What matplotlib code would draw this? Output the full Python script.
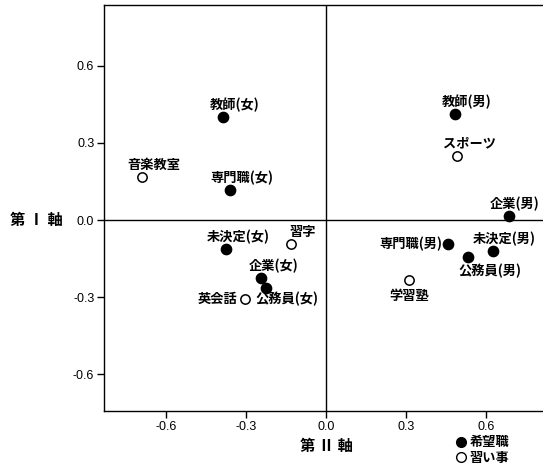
import matplotlib
matplotlib.use('Agg')
from matplotlib import pyplot as plt
from matplotlib.lines import Line2D

plt.rcParams['font.family'] = ['Noto Sans CJK JP', 'DejaVu Sans']

# 希望職 (filled)
job_names = ['教師(女)', '専門職(女)', '未決定(女)', '企業(女)', '公務員(女)',
             '教師(男)', '企業(男)', '専門職(男)', '未決定(男)', '公務員(男)']
job_x = [-0.386, -0.36, -0.376, -0.243, -0.225, 0.484, 0.685, 0.458, 0.625, 0.532]
job_y = [0.40, 0.116, -0.114, -0.227, -0.264, 0.413, 0.016, -0.094, -0.119, -0.142]

# 習い事 (open)
hobby_names = ['音楽教室', '習字', '英会話', 'スポーツ', '学習塾']
hobby_x = [-0.69, -0.132, -0.304, 0.492, 0.313]
hobby_y = [0.167, -0.093, -0.306, 0.251, -0.235]

ticks = [-0.6, -0.3, 0.0, 0.3, 0.6]

# label offsets in pixels (dx, dy, ha)
offsets = {
    '公務員(女)': (21, -11, 'center'),
    '英会話': (-8, 0, 'right'),
    '専門職(男)': (-6, 0, 'right'),
    '公務員(男)': (22, -14, 'center'),
    '学習塾': (0, -16, 'center'),
    '企業(男)': (6, 12, 'center'),
}

fig = plt.figure(figsize=(5.43, 4.65), dpi=100)
ax = fig.add_axes([104 / 543, 54 / 465, 439 / 543, 406 / 465])

ax.scatter(job_x, job_y, s=55, c='black', edgecolors='black', zorder=3)
ax.scatter(hobby_x, hobby_y, s=45, facecolors='white', edgecolors='black', linewidths=1.1, zorder=3)

for names, xs, ys in [(job_names, job_x, job_y), (hobby_names, hobby_x, hobby_y)]:
    for name, x, y in zip(names, xs, ys):
        dx, dy, ha = offsets.get(name, (12, 12, 'center'))
        ax.annotate(name, (x, y), xytext=(dx, dy), textcoords='offset pixels',
                    ha=ha, va='center', fontsize=9.5, fontweight='bold')

ax.axhline(0, color='black', lw=1)
ax.axvline(0, color='black', lw=1)

ax.set_xlim(-0.833, 0.814)
ax.set_ylim(-0.743, 0.837)
ax.set_xticks(ticks)
ax.set_yticks(ticks)
ax.set_xticklabels(['%.1f' % t for t in ticks], family='Liberation Sans')
ax.set_yticklabels(['%.1f' % t for t in ticks], family='Liberation Sans')
ax.tick_params(direction='out', length=5, width=1, labelsize=9, pad=2)
ax.spines['right'].set_visible(False)
for s in ['left', 'top', 'bottom']:
    ax.spines[s].set_linewidth(1)

fig.text(36 / 543, 1 - 220 / 465, '第 Ⅰ 軸', ha='center', va='center', fontsize=11, fontweight='bold')
fig.text(326 / 543, 1 - 446 / 465, '第 Ⅱ 軸', ha='center', va='center', fontsize=11, fontweight='bold')

handles = [Line2D([], [], ls='', marker='o', color='black', markersize=7),
           Line2D([], [], ls='', marker='o', mfc='white', mec='black', markersize=7)]
fig.legend(handles, ['希望職', '習い事'], loc='center left', bbox_to_anchor=(450 / 543, 1 - 450 / 465),
           frameon=False, handlelength=0.6, handletextpad=0.4, labelspacing=0.1,
           prop={'size': 9.5, 'weight': 'bold'}, borderpad=0)

plt.savefig('out.png', dpi=100)
